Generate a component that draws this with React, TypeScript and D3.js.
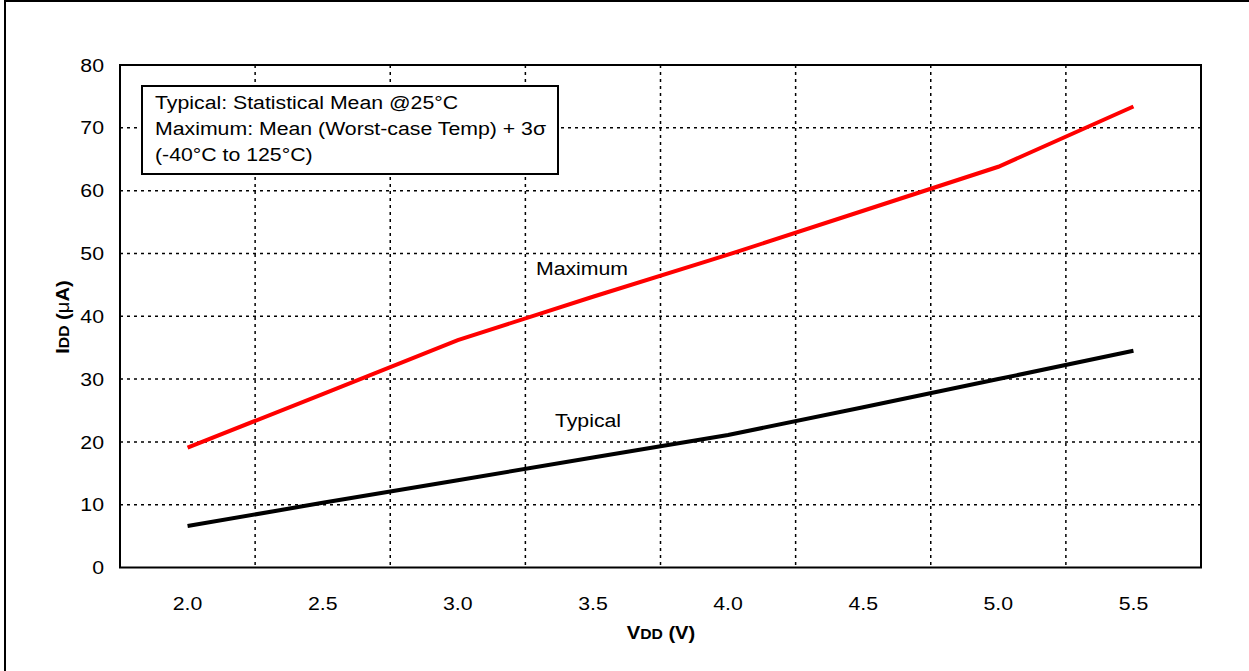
import React from "react";
import * as d3 from "d3";

const categories = ["2.0", "2.5", "3.0", "3.5", "4.0", "4.5", "5.0", "5.5"];
const maximumValues = [19.1, 27.6, 36.2, 43.1, 49.8, 56.8, 63.8, 73.4];
const typicalValues = [6.6, 10.3, 13.9, 17.5, 21.1, 25.5, 30.0, 34.5];
const yTicks = [0, 10, 20, 30, 40, 50, 60, 70, 80];
const noteLines = [
  "Typical: Statistical Mean @25°C",
  "Maximum: Mean (Worst-case Temp) + 3σ",
  "(-40°C to 125°C)",
];

const W = 1249;
const H = 671;
const left = 120;
const right = 1201;
const top = 65;
const bottom = 567.5;
const FONT = "'Liberation Sans', Arial, sans-serif";
const SX = 1.12;
const FS = 19;

function T(props: {
  x: number;
  y: number;
  anchor?: "start" | "middle" | "end";
  size?: number;
  weight?: string;
  rotate?: number;
  children: React.ReactNode;
}) {
  const { x, y, anchor = "start", size = FS, weight = "normal", rotate = 0, children } = props;
  return (
    <text
      transform={`translate(${x},${y}) rotate(${rotate}) scale(${SX},1)`}
      textAnchor={anchor}
      fontSize={size}
      fontWeight={weight}
      fill="#000"
      dy="0.35em"
    >
      {children}
    </text>
  );
}

export default function App() {
  const x = d3.scaleBand<string>().domain(categories).range([left, right]).padding(0);
  const y = d3.scaleLinear().domain([0, 80]).range([bottom, top]);
  const cx = (c: string) => (x(c) as number) + x.bandwidth() / 2;

  const line = d3
    .line<number>()
    .x((_, i) => cx(categories[i]))
    .y((d) => y(d));

  const boundaries = categories.slice(1).map((c) => x(c) as number);

  return (
    <svg
      width={W}
      height={H}
      style={{ position: "absolute", left: 0, top: 0, display: "block" }}
      fontFamily={FONT}
    >
      <rect x={0} y={0} width={W} height={H} fill="#fff" />
      {/* outer frame */}
      <rect x={5} y={1} width={W + 10} height={H + 10} fill="none" stroke="#000" strokeWidth={2} />

      {/* horizontal gridlines */}
      {yTicks
        .filter((t) => t > 0 && t < 80)
        .map((t) => (
          <line
            key={"h" + t}
            x1={left}
            x2={right}
            y1={y(t)}
            y2={y(t)}
            stroke="#000"
            strokeWidth={1.5}
            strokeDasharray="3,4"
          />
        ))}
      {/* vertical gridlines */}
      {boundaries.map((bx, i) => (
        <line
          key={"v" + i}
          x1={bx}
          x2={bx}
          y1={top}
          y2={bottom}
          stroke="#000"
          strokeWidth={1.5}
          strokeDasharray="3,4"
        />
      ))}

      {/* plot border */}
      <rect
        x={left}
        y={top}
        width={right - left}
        height={bottom - top}
        fill="none"
        stroke="#000"
        strokeWidth={2}
      />

      {/* y tick labels */}
      {yTicks.map((t) => (
        <T key={"yt" + t} x={104} y={y(t)} anchor="end">
          {t}
        </T>
      ))}

      {/* x tick labels */}
      {categories.map((c) => (
        <T key={"xt" + c} x={cx(c)} y={603} anchor="middle">
          {c}
        </T>
      ))}

      {/* axis titles */}
      <T x={661} y={633} anchor="middle" weight="bold" size={18}>
        V<tspan fontSize={14}>DD</tspan> (V)
      </T>
      <T x={63} y={317} anchor="middle" weight="bold" size={18} rotate={-90}>
        I<tspan fontSize={14}>DD</tspan> (<tspan fontWeight="normal">μ</tspan>A)
      </T>

      {/* data lines */}
      <path d={line(typicalValues) || ""} fill="none" stroke="#000" strokeWidth={4} />
      <path d={line(maximumValues) || ""} fill="none" stroke="#ff0000" strokeWidth={4} />

      {/* series labels */}
      <T x={582} y={268} anchor="middle">
        Maximum
      </T>
      <T x={588} y={420} anchor="middle">
        Typical
      </T>

      {/* note box */}
      <rect x={142} y={86} width={416} height={88} fill="#fff" stroke="#000" strokeWidth={2} />
      {noteLines.map((l, i) => (
        <T key={"n" + i} x={155} y={102 + i * 26}>
          {l}
        </T>
      ))}
    </svg>
  );
}
